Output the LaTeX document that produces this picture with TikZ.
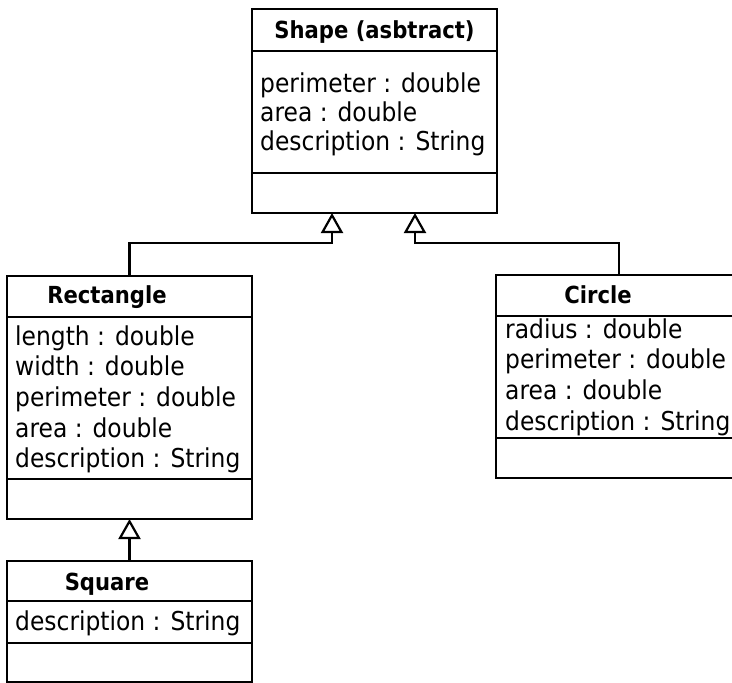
\documentclass[tikz,border=0pt]{standalone}
\usepackage{fontspec}
\setmainfont[FakeStretch=0.9]{DejaVu Sans}
\usetikzlibrary{arrows.meta}
\tikzset{
  classbox/.style={draw, line width=2.2pt, inner sep=0pt, outer sep=0pt, anchor=north west},
  divider/.style={line width=2.2pt},
  title/.style={anchor=base, inner sep=0pt, font=\fontsize{23.5}{28}\selectfont\bfseries},
  attr/.style={anchor=base west, inner sep=0pt, font=\fontsize{26}{30}\selectfont},
  inherit/.style={line width=2.2pt, -{Triangle[open, length=20pt, width=22pt, line width=2.2pt]}}
}
\begin{document}
\begin{tikzpicture}[x=1pt, y=-1pt]
\useasboundingbox (0,0) rectangle (732,683);
\clip (0,0) rectangle (732,683);
% Shape
\node[classbox, minimum width=245pt, minimum height=204pt] (shape) at (252,9) {};
\draw[divider] (shape.west |- 0,51) -- (shape.east |- 0,51);
\draw[divider] (shape.west |- 0,173) -- (shape.east |- 0,173);
\node[title] (shapeT) at (374.5,38) {Shape (asbtract)};
\node[attr] (s1) at (260,92) {perimeter : double};
\node[attr] (s2) at (260,121) {area : double};
\node[attr] (s3) at (260,150) {description : String};
% Rectangle
\node[classbox, minimum width=245pt, minimum height=243pt] (rect) at (7,276) {};
\draw[divider] (rect.west |- 0,317) -- (rect.east |- 0,317);
\draw[divider] (rect.west |- 0,479) -- (rect.east |- 0,479);
\node[title] (rectT) at (107,303) {Rectangle};
\node[attr] (r1) at (15,345) {length : double};
\node[attr] (r2) at (15,375.7) {width : double};
\node[attr] (r3) at (15,406.4) {perimeter : double};
\node[attr] (r4) at (15,437) {area : double};
\node[attr] (r5) at (15,467.8) {description : String};
% Circle
\node[classbox, minimum width=246pt, minimum height=203pt] (circ) at (496,275) {};
\draw[divider] (circ.west |- 0,316) -- (circ.east |- 0,316);
\draw[divider] (circ.west |- 0,438) -- (circ.east |- 0,438);
\node[title] (circT) at (598,303) {Circle};
\node[attr] (c1) at (505,338) {radius : double};
\node[attr] (c2) at (505,368.7) {perimeter : double};
\node[attr] (c3) at (505,399.4) {area : double};
\node[attr] (c4) at (505,430) {description : String};
% Square
\node[classbox, minimum width=245pt, minimum height=121pt] (sq) at (7,561) {};
\draw[divider] (sq.west |- 0,601) -- (sq.east |- 0,601);
\draw[divider] (sq.west |- 0,643) -- (sq.east |- 0,643);
\node[title] (sqT) at (107,590) {Square};
\node[attr] (q1) at (15,630) {description : String};
% Connectors
\coordinate (j1) at (332,243);
\coordinate (j2) at (415,243);
\draw[inherit] (rect.north) |- (j1) -- (j1 |- shape.south);
\draw[inherit] (circ.north) |- (j2) -- (j2 |- shape.south);
\draw[inherit] (sq.north) -- (rect.south);
\end{tikzpicture}
\end{document}
